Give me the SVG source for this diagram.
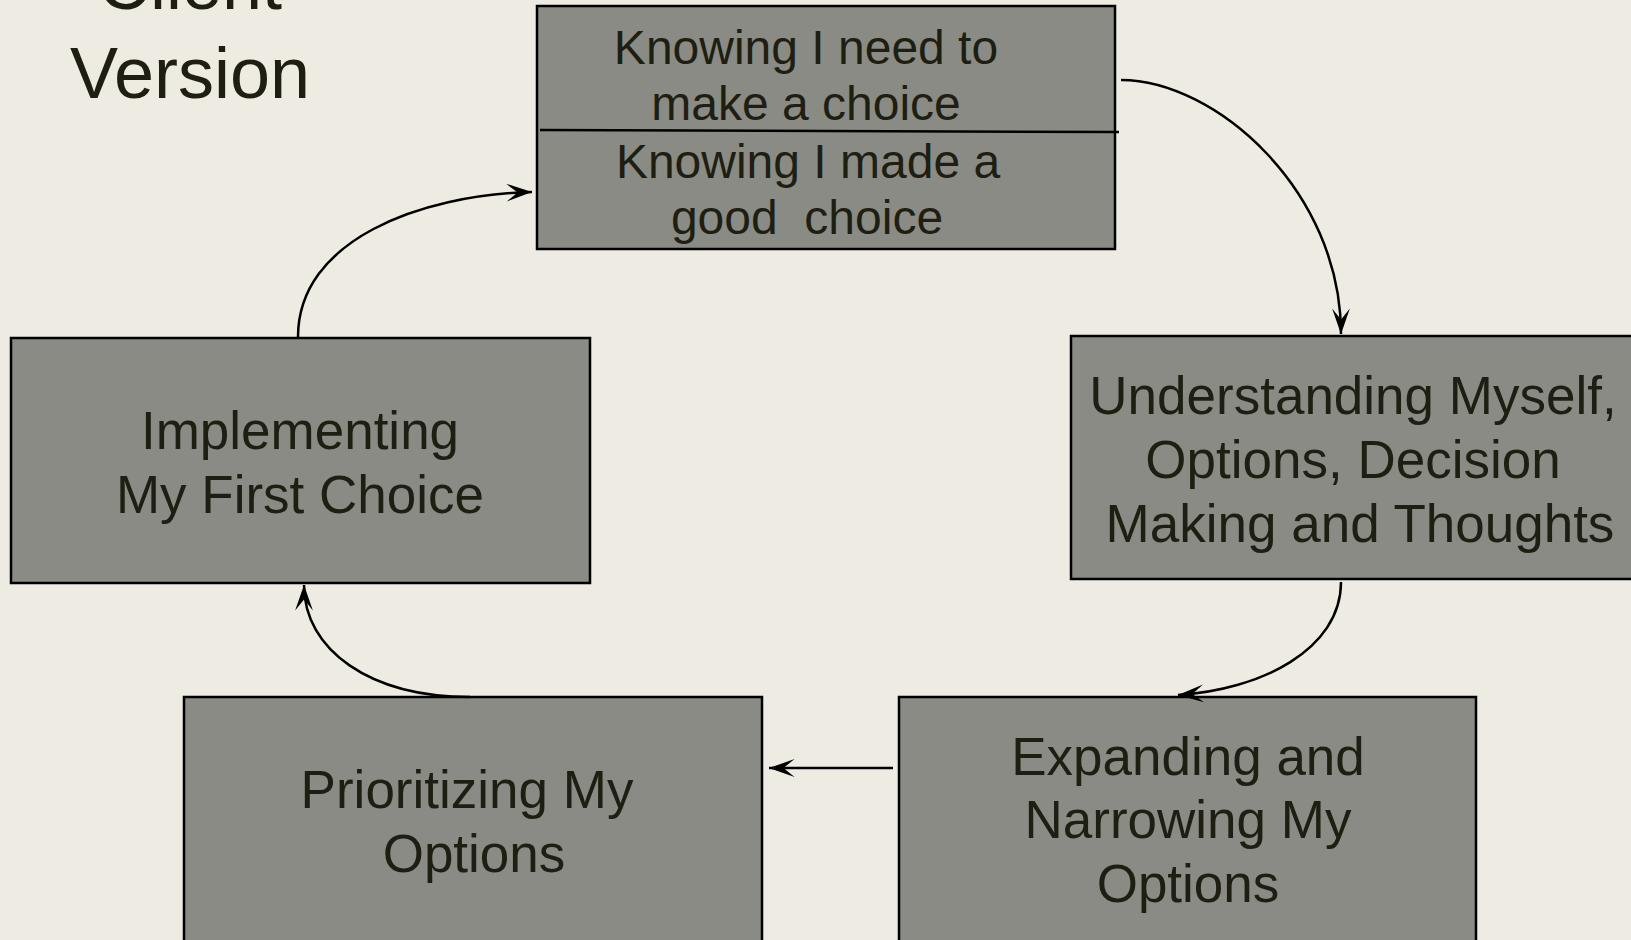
<svg xmlns="http://www.w3.org/2000/svg" width="1631" height="940" viewBox="0 0 1631 940">
<style>
.box{fill:#8A8B84;stroke:#000;stroke-width:2.5}
.t{font-family:"Liberation Sans",Arial,sans-serif;fill:#1E1E12;text-anchor:middle}
.s47{font-size:48px}
.s53{font-size:53px}
.title{font-size:72px}
.c{fill:none;stroke:#000;stroke-width:2.5}
</style>
<defs>
<marker id="ah" markerUnits="userSpaceOnUse" markerWidth="30" markerHeight="20" viewBox="-24 -9 26 18" refX="0" refY="0" orient="auto">
<path d="M0,0 L-23,-8 L-13,0 L-23,8 z" fill="#000"/>
</marker>
</defs>
<rect width="1631" height="940" fill="#EEEBE3"/>
<g id="title">
<text class="t title" x="190" y="9">Client</text>
<text class="t title" x="190" y="98">Version</text>
</g>
<g id="node-top">
<rect class="box" x="537" y="6" width="578" height="243"/>
<line x1="540" y1="130" x2="1119" y2="132" stroke="#000" stroke-width="2.5"/>
<text class="t s47" x="806" y="64">Knowing I need to</text>
<text class="t s47" x="806" y="120">make a choice</text>
<text class="t s47" x="808" y="178">Knowing I made a</text>
<text class="t s47" x="807" y="234" xml:space="preserve">good  choice</text>
</g>
<g id="node-understanding">
<rect class="box" x="1071" y="336" width="578" height="243"/>
<text class="t s53" x="1353" y="414">Understanding Myself,</text>
<text class="t s53" x="1353" y="478">Options, Decision</text>
<text class="t s53" x="1360" y="542">Making and Thoughts</text>
</g>
<g id="node-implementing">
<rect class="box" x="11" y="338" width="579" height="245"/>
<text class="t s53" x="300" y="449">Implementing</text>
<text class="t s53" x="300" y="513">My First Choice</text>
</g>
<g id="node-prioritizing">
<rect class="box" x="184" y="697" width="578" height="250"/>
<text class="t s53" x="467" y="808">Prioritizing My</text>
<text class="t s53" x="474" y="872">Options</text>
</g>
<g id="node-expanding">
<rect class="box" x="899" y="697" width="577" height="250"/>
<text class="t s53" x="1188" y="775">Expanding and</text>
<text class="t s53" x="1188" y="838">Narrowing My</text>
<text class="t s53" x="1188" y="902">Options</text>
</g>
<g id="connectors">
<path class="c" d="M1121,80 C1215,80 1341,190 1341,334" marker-end="url(#ah)"/>
<path class="c" d="M1341,582 C1341,650 1260,690 1178,695" marker-end="url(#ah)"/>
<path class="c" d="M893,768 L769,768" marker-end="url(#ah)"/>
<path class="c" d="M470,697 C370,697 304,650 304,585" marker-end="url(#ah)"/>
<path class="c" d="M298,337 C298,240 420,195 532,192" marker-end="url(#ah)"/>
</g>
</svg>
